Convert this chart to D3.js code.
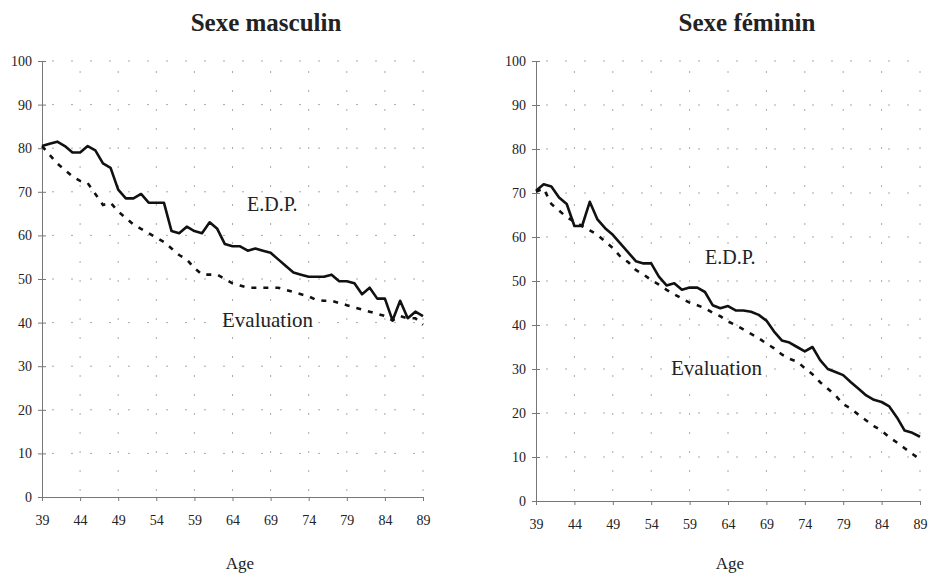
<!DOCTYPE html>
<html>
<head>
<meta charset="utf-8">
<script src="https://cdn.jsdelivr.net/npm/d3@7"></script>
<style>
  body { margin: 0; background: #fff; }
  svg text { font-family: "Liberation Serif", "Times New Roman", serif !important; fill: #222; }
  .axis path, .axis line { stroke: #777; }
  .grid line { stroke: #aaa; stroke-width: 1; stroke-dasharray: 2,17; }
</style>
</head>
<body>
<div class="chart"></div>
<script>
// Ages on the x axis
var ages = d3.range(39, 90);
var xTicks = [39, 44, 49, 54, 59, 64, 69, 74, 79, 84, 89];
var yTicks = [0, 10, 20, 30, 40, 50, 60, 70, 80, 90, 100];

// Sexe masculin
var maleEDP = [80.5, 81, 81.5, 80.5, 79, 79, 80.5, 79.5, 76.5, 75.5,
    70.5, 68.5, 68.5, 69.5, 67.5, 67.5, 67.5, 61, 60.5, 62,
    61, 60.5, 63, 61.5, 58, 57.5, 57.5, 56.5, 57, 56.5,
    56, 54.5, 53, 51.5, 51, 50.5, 50.5, 50.5, 51, 49.5,
    49.5, 49, 46.5, 48, 45.5, 45.5, 40.5, 45, 41, 42.5, 41.5];
var maleEval = [80.5, 78.5, 76.5, 75, 73.5, 72.5, 72, 69.5, 67, 67.5,
    65.5, 64, 62.5, 61.5, 60.5, 59.5, 58.5, 57, 55.5, 54.5,
    52.5, 51, 51, 51, 50, 49, 48.5, 48, 48, 48,
    48, 48, 47.5, 47, 46.5, 46, 45.2, 45, 45, 44.5,
    44, 43.5, 43, 42.5, 42, 41.5, 40.5, 41.5, 41, 41, 39.5];

// Sexe féminin
var femaleEDP = [70.5, 72, 71.5, 69, 67.5, 62.5, 62.5, 68, 64, 62,
    60.5, 58.5, 56.5, 54.5, 54, 54, 51, 49, 49.5, 48,
    48.5, 48.5, 47.5, 44.5, 43.8, 44.3, 43.3, 43.3, 43, 42.3,
    41, 38.5, 36.5, 36, 35, 34, 35, 32, 30, 29.3,
    28.6, 27, 25.5, 24, 23, 22.5, 21.5, 19, 16, 15.5, 14.6];
var femaleEval = [70.3, 71, 67.5, 66, 64.5, 63.5, 62.5, 61.5, 60.5, 59,
    57.5, 55.5, 54.3, 52.5, 51.5, 50.2, 49.2, 48, 47, 46,
    45.1, 44.5, 43.8, 42.8, 42, 40.8, 40, 39, 38, 37,
    35.8, 34.7, 33.3, 32.3, 31.7, 30.2, 28.8, 27, 25.5, 24,
    22, 21, 19.6, 18.3, 17, 16, 14.5, 13.3, 12, 10.7, 9.5];

var width = 933, height = 574;

var svg = d3.select("div.chart")
    .append("svg")
    .attr("width", width)
    .attr("height", height);

var panels = [
    { title: "Sexe masculin", titleX: 266, left: 42, right: 423, top: 61, bottom: 497,
      edp: maleEDP, evl: maleEval,
      edpLabel: [247, 211], evalLabel: [222, 327], ageX: 240 },
    { title: "Sexe féminin", titleX: 747, left: 536, right: 920, top: 61, bottom: 501,
      edp: femaleEDP, evl: femaleEval,
      edpLabel: [705, 264], evalLabel: [671, 375], ageX: 730 }
];

panels.forEach(drawPanel);

function drawPanel(p) {
    var x = d3.scaleLinear().domain([39, 89]).range([p.left, p.right]);
    var y = d3.scaleLinear().domain([0, 100]).range([p.bottom, p.top]);

    var g = svg.append("g");

    // dotted grid
    var grid = g.append("g").attr("class", "grid");
    grid.selectAll("line.h")
        .data(yTicks.slice(1))
        .enter().append("line")
        .attr("class", "h")
        .attr("x1", p.left + 10).attr("x2", p.right)
        .attr("y1", function (d) { return y(d); })
        .attr("y2", function (d) { return y(d); });
    grid.selectAll("line.v")
        .data(xTicks.slice(1))
        .enter().append("line")
        .attr("class", "v")
        .attr("x1", function (d) { return x(d); })
        .attr("x2", function (d) { return x(d); })
        .attr("y1", p.top + 10).attr("y2", p.bottom);

    // y axis, ticks crossing the line
    var yAxis = g.append("g")
        .attr("class", "axis")
        .attr("transform", "translate(" + p.left + ",0)")
        .call(d3.axisLeft(y).tickValues(yTicks).tickSize(4).tickPadding(6).tickSizeOuter(0));
    yAxis.attr("font-family", null);
    yAxis.selectAll(".tick line").attr("x1", 4).attr("x2", -4);
    yAxis.selectAll("text").style("font-size", "14px");

    // x axis
    var xAxis = g.append("g")
        .attr("class", "axis")
        .attr("transform", "translate(0," + p.bottom + ")")
        .call(d3.axisBottom(x).tickValues(xTicks).tickSize(4).tickPadding(14).tickSizeOuter(0));
    xAxis.attr("font-family", null);
    xAxis.selectAll("text").style("font-size", "14px");

    var line = d3.line()
        .x(function (d, i) { return x(ages[i]); })
        .y(function (d) { return y(d); });

    g.append("path")
        .datum(p.evl)
        .attr("d", line)
        .attr("fill", "none")
        .attr("stroke", "#111")
        .attr("stroke-width", 2.6)
        .attr("stroke-dasharray", "5,7");

    g.append("path")
        .datum(p.edp)
        .attr("d", line)
        .attr("fill", "none")
        .attr("stroke", "#111")
        .attr("stroke-width", 2.6)
        .attr("stroke-linejoin", "round");

    // titles and labels
    g.append("text")
        .attr("x", p.titleX).attr("y", 31)
        .attr("text-anchor", "middle")
        .style("font-size", "25px").style("font-weight", "bold")
        .text(p.title);
    g.append("text")
        .attr("x", p.edpLabel[0]).attr("y", p.edpLabel[1])
        .style("font-size", "20px")
        .text("E.D.P.");
    g.append("text")
        .attr("x", p.evalLabel[0]).attr("y", p.evalLabel[1])
        .style("font-size", "21px")
        .text("Evaluation");
    g.append("text")
        .attr("x", p.ageX).attr("y", 569)
        .attr("text-anchor", "middle")
        .style("font-size", "17px")
        .text("Age");
}
</script>
</body>
</html>
